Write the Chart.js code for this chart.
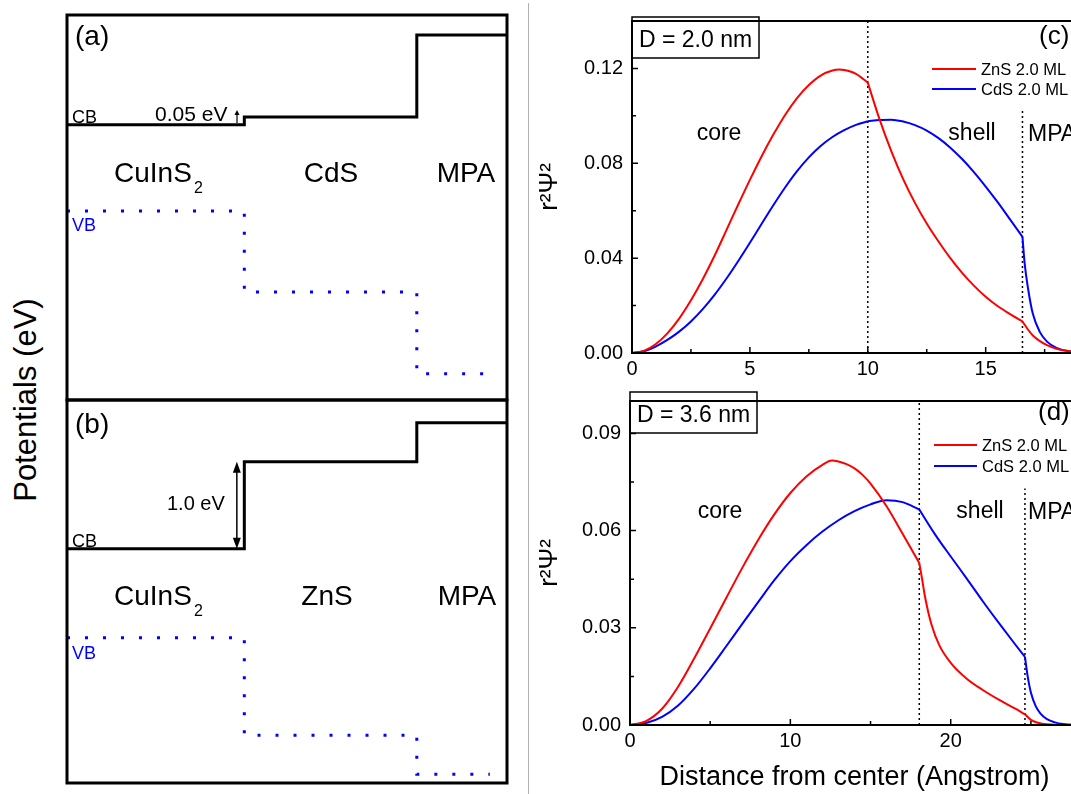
<!DOCTYPE html>
<html>
<head>
<meta charset="utf-8">
<script src="https://cdn.jsdelivr.net/npm/chart.js@4.4.1/dist/chart.umd.min.js"></script>
<style>
  body { margin: 0; width: 1071px; height: 794px; overflow: hidden; background: #fff; position: relative;
         font-family: "Liberation Sans", Arial, Helvetica, sans-serif; }
  canvas { position: absolute; }
  #sep { position: absolute; left: 528px; top: 3px; width: 1px; height: 791px; background: #b0b0b0; }
  #ylab { position: absolute; left: 26px; top: 400px; transform: translate(-50%, -50%) rotate(-90deg);
          font-size: 31px; white-space: nowrap; color: #000; }
</style>
</head>
<body>
<div id="sep"></div>
<div id="ylab">Potentials (eV)</div>
<canvas id="chartA" width="520" height="410" style="left:0;top:0"></canvas>
<canvas id="chartB" width="520" height="404" style="left:0;top:390px"></canvas>
<canvas id="chartC" width="560" height="385" style="left:530px;top:0"></canvas>
<canvas id="chartD" width="559" height="414" style="left:530px;top:380px"></canvas>
<script>
const FONT = '"Liberation Sans", Arial, Helvetica, sans-serif';
Chart.defaults.font.family = FONT;
Chart.defaults.color = '#000';
Chart.defaults.animation = false;

// band diagrams (a) and (b): region edges along the particle, band levels in eV
const regionEdges = [0, 0.403, 0.795, 1];
const vbEnd = 0.961;
const cbA = [0, 0.09, 1.03];
const vbA = [-0.99, -1.92, -2.86];
const rangeA = [-3.16, 1.26];
const cbB = [0, 1.0, 1.45];
const vbB = [-1.02, -2.14, -2.59];
const rangeB = [-2.69, 1.71];
const offsetArrowX = 0.386;

// wave function densities, panel (c) D = 2.0 nm
const cRedX = [0,0.5,1,1.5,2,2.5,3,3.5,4,4.5,5,5.5,6,6.5,7,7.5,8,8.5,8.8,9,9.5,10,10.5,11,11.5,12,12.5,13,13.5,14,14.5,15,15.5,16,16.56,16.8,17,17.3,17.6,18,18.5,19];
const cRedY = [0,0.0009,0.0037,0.0083,0.0145,0.0222,0.0311,0.0410,0.0517,0.0625,0.0730,0.0830,0.0922,0.1005,0.1075,0.1130,0.1170,0.1191,0.1195,0.1193,0.1177,0.1140,0.0985,0.0850,0.0733,0.0633,0.0546,0.0470,0.0400,0.0338,0.0284,0.0237,0.0198,0.0166,0.0133,0.0098,0.0074,0.0050,0.0033,0.0018,0.0008,0.0003];
const cBlueX = [0,0.5,1,1.5,2,2.5,3,3.5,4,4.5,5,5.5,6,6.5,7,7.5,8,8.5,9,9.5,10,10.5,11,11.5,12,12.5,13,13.5,14,14.5,15,15.5,16,16.56,16.65,16.8,17,17.3,17.6,18,18.5,19];
const cBlueY = [0,0.0007,0.0027,0.0055,0.0090,0.0133,0.0185,0.0245,0.0313,0.0387,0.0465,0.0545,0.0624,0.0699,0.0767,0.0825,0.0873,0.0911,0.0940,0.0962,0.0977,0.0983,0.0984,0.0976,0.0961,0.0938,0.0906,0.0866,0.0818,0.0763,0.0702,0.0637,0.0568,0.0490,0.0380,0.0270,0.0165,0.0088,0.0048,0.0022,0.0008,0.0003];
const cBounds = [10, 16.56];
const cBoundTops = [0.14, 0.103];

// panel (d) D = 3.6 nm
const dRedX = [0,1,2,3,4,5,6,7,8,9,10,11,12,12.6,13,13.5,14,14.5,15,16,17,18.04,18.2,18.4,18.8,19.3,20,21,22,23,24,24.63,25,25.5,26,27,28];
const dRedY = [0,0.0012,0.0050,0.0118,0.0205,0.0298,0.0392,0.0485,0.0572,0.0650,0.0716,0.0767,0.0803,0.0816,0.0813,0.0805,0.0792,0.0772,0.0745,0.0675,0.0590,0.0500,0.0455,0.0395,0.0310,0.0245,0.0192,0.0143,0.0108,0.0078,0.0051,0.0033,0.0016,0.0006,0.0002,0,0];
const dBlueX = [0,1,2,3,4,5,6,7,8,9,10,11,12,13,14,15,16,17,18.04,19,20,21,22,23,24,24.63,24.8,25,25.3,25.6,26,26.5,27,28];
const dBlueY = [0,0.0006,0.0025,0.0060,0.0112,0.0175,0.0243,0.0312,0.0380,0.0447,0.0506,0.0555,0.0597,0.0632,0.0660,0.0681,0.0694,0.0688,0.0665,0.0590,0.0520,0.0452,0.0382,0.0315,0.0250,0.0210,0.0150,0.0100,0.0058,0.0035,0.0018,0.0008,0.0003,0];
const dBounds = [18.04, 24.63];
const dBoundTops = [0.10, 0.073];

const seriesNames = ['ZnS 2.0 ML', 'CdS 2.0 ML'];
const seriesColors = ['#ff0000', '#0000ff'];

function zip(xs, ys) {
  return xs.map((x, i) => ({ x: x, y: ys[i] }));
}

// cut a curve at the interfaces so the kinks stay sharp
function splitAt(xs, ys, bounds) {
  const parts = [];
  let cur = [];
  zip(xs, ys).forEach(p => {
    cur.push(p);
    if (bounds.some(b => Math.abs(b - p.x) < 1e-9)) {
      parts.push(cur);
      cur = [p];
    }
  });
  if (cur.length > 1) parts.push(cur);
  return parts;
}

// box round the plot area, with inward ticks for the wave plots
const frame = {
  id: 'frame',
  afterDatasetsDraw(chart, args, opts) {
    const { ctx, chartArea: a } = chart;
    ctx.save();
    ctx.strokeStyle = '#000';
    ctx.lineWidth = opts.width;
    ctx.strokeRect(a.left, a.top, a.right - a.left, a.bottom - a.top);
    if (opts.ticks) {
      ctx.lineWidth = 1.5;
      ctx.beginPath();
      ['x', 'y'].forEach(k => {
        const s = chart.scales[k];
        const step = s.ticks[1].value - s.ticks[0].value;
        for (let i = 0; s.min + i * step / 2 <= s.max + 1e-9; i++) {
          const p = s.getPixelForValue(s.min + i * step / 2);
          const len = i % 2 === 0 ? 6 : 4;
          if (k === 'x') { ctx.moveTo(p, a.bottom); ctx.lineTo(p, a.bottom - len); }
          else { ctx.moveTo(a.left, p); ctx.lineTo(a.left + len, p); }
        }
      });
      ctx.stroke();
    }
    ctx.restore();
  }
};

function arrowHead(ctx, x, tip, dir, half, len) {
  ctx.beginPath();
  ctx.moveTo(x, tip);
  ctx.lineTo(x - half, tip + dir * len);
  ctx.lineTo(x + half, tip + dir * len);
  ctx.closePath();
  ctx.fill();
}

// free text, boxes and small arrows, given in page coordinates
const notes = {
  id: 'notes',
  afterDraw(chart, args, opts) {
    const ctx = chart.ctx;
    const ox = chart.canvas.offsetLeft, oy = chart.canvas.offsetTop;
    ctx.save();
    ctx.strokeStyle = '#000';
    ctx.fillStyle = '#000';
    (opts.boxes || []).forEach(b => {
      ctx.lineWidth = 1.5;
      ctx.strokeRect(b[0] - ox, b[1] - oy, b[2] - b[0], b[3] - b[1]);
    });
    (opts.arrows || []).forEach(a => {
      ctx.lineWidth = 1.2;
      ctx.beginPath();
      ctx.moveTo(a[0] - ox, a[1] - oy);
      ctx.lineTo(a[0] - ox, a[2] - oy + 3);
      ctx.stroke();
      arrowHead(ctx, a[0] - ox, a[2] - oy, 1, 2.5, 5);
    });
    (opts.texts || []).forEach(t => {
      ctx.font = t.size + 'px ' + FONT;
      ctx.fillStyle = t.color || '#000';
      ctx.textAlign = t.align || 'left';
      ctx.textBaseline = t.base || 'alphabetic';
      ctx.fillText(t.text, t.x - ox, t.y - oy);
    });
    ctx.restore();
  }
};

// legend for the two curves
const keyBox = {
  id: 'keyBox',
  afterDraw(chart, args, opts) {
    const ctx = chart.ctx;
    const ox = chart.canvas.offsetLeft, oy = chart.canvas.offsetTop;
    ctx.save();
    ctx.font = opts.size + 'px ' + FONT;
    ctx.textBaseline = 'middle';
    ctx.fillStyle = '#000';
    chart.data.datasets.filter(d => d.label).forEach((d, i) => {
      const y = opts.ys[i] - oy;
      ctx.strokeStyle = d.borderColor;
      ctx.lineWidth = 2;
      ctx.beginPath();
      ctx.moveTo(opts.x1 - ox, y);
      ctx.lineTo(opts.x2 - ox, y);
      ctx.stroke();
      ctx.fillText(d.label, opts.xt - ox, y + 1);
    });
    ctx.restore();
  }
};

// double arrow for the band offset in (b)
const offsetArrow = {
  id: 'offsetArrow',
  afterDatasetsDraw(chart, args, opts) {
    const { ctx, scales: { x, y } } = chart;
    const px = x.getPixelForValue(opts.x);
    const y1 = y.getPixelForValue(opts.from);
    const y2 = y.getPixelForValue(opts.to);
    ctx.save();
    ctx.strokeStyle = '#000';
    ctx.fillStyle = '#000';
    ctx.lineWidth = 1.5;
    ctx.beginPath();
    ctx.moveTo(px, y1 - 8);
    ctx.lineTo(px, y2 + 8);
    ctx.stroke();
    arrowHead(ctx, px, y1, -1, 4, 11);
    arrowHead(ctx, px, y2, 1, 4, 11);
    ctx.restore();
  }
};

function steps(levels, end) {
  return [
    { x: regionEdges[0], y: levels[0] },
    { x: regionEdges[1], y: levels[1] },
    { x: regionEdges[2], y: levels[2] },
    { x: end, y: levels[2] }
  ];
}

function bandChart(id, cb, vb, range, pad, labels, arrow) {
  const plugins = [frame, notes];
  if (arrow) plugins.push(offsetArrow);
  return new Chart(document.getElementById(id), {
    type: 'line',
    data: {
      datasets: [
        { data: steps(cb, 1), stepped: true, borderColor: '#000', borderWidth: 3, pointRadius: 0 },
        { data: steps(vb, vbEnd), stepped: true, borderColor: '#0000ff', borderWidth: 3,
          borderDash: [3, 15], pointRadius: 0 }
      ]
    },
    options: {
      responsive: false,
      layout: { padding: pad },
      scales: {
        x: { type: 'linear', min: 0, max: 1, display: false },
        y: { min: range[0], max: range[1], display: false }
      },
      plugins: {
        legend: { display: false },
        tooltip: { enabled: false },
        frame: { width: 3 },
        notes: labels,
        offsetArrow: arrow || {}
      }
    },
    plugins: plugins
  });
}

bandChart('chartA', cbA, vbA, rangeA, { left: 67, right: 13, top: 15, bottom: 10 }, {
  arrows: [[237, 123, 110]],
  texts: [
    { text: '(a)', x: 75, y: 37, size: 28, base: 'middle' },
    { text: 'CB', x: 72, y: 123, size: 18 },
    { text: '0.05 eV', x: 155, y: 121, size: 21 },
    { text: 'CuInS', x: 114, y: 182, size: 28 },
    { text: '2', x: 194, y: 193, size: 16 },
    { text: 'CdS', x: 331, y: 182, size: 28, align: 'center' },
    { text: 'MPA', x: 466, y: 182, size: 28, align: 'center' },
    { text: 'VB', x: 72, y: 231, size: 18, color: '#0000ff' }
  ]
}, null);

bandChart('chartB', cbB, vbB, rangeB, { left: 67, right: 13, top: 10, bottom: 11 }, {
  texts: [
    { text: '(b)', x: 75, y: 425, size: 28, base: 'middle' },
    { text: '1.0 eV', x: 167, y: 510, size: 20 },
    { text: 'CB', x: 72, y: 547, size: 18 },
    { text: 'CuInS', x: 114, y: 605, size: 28 },
    { text: '2', x: 194, y: 616, size: 16 },
    { text: 'ZnS', x: 327, y: 605, size: 28, align: 'center' },
    { text: 'MPA', x: 467, y: 605, size: 28, align: 'center' },
    { text: 'VB', x: 72, y: 659, size: 18, color: '#0000ff' }
  ]
}, { x: offsetArrowX, from: cbB[0], to: cbB[1] });

function waveChart(id, cfg) {
  const curves = [];
  [[cfg.redX, cfg.redY], [cfg.blueX, cfg.blueY]].forEach((s, i) => {
    splitAt(s[0], s[1], cfg.bounds).forEach((part, j) => {
      curves.push({
        label: j === 0 ? seriesNames[i] : undefined,
        data: part, borderColor: seriesColors[i], borderWidth: 2,
        pointRadius: 0, cubicInterpolationMode: 'monotone'
      });
    });
  });
  const guides = cfg.bounds.map((b, i) => ({
    data: [{ x: b, y: 0 }, { x: b, y: cfg.boundTops[i] }],
    borderColor: '#000', borderWidth: 1.5, borderDash: [2, 3], pointRadius: 0
  }));
  return new Chart(document.getElementById(id), {
    type: 'line',
    data: { datasets: curves.concat(guides) },
    options: {
      responsive: false,
      layout: { padding: { top: cfg.padTop, right: 10, left: 0, bottom: 0 } },
      scales: {
        x: {
          type: 'linear', min: 0, max: cfg.xMax,
          ticks: { stepSize: cfg.xStep, includeBounds: false, padding: 4, font: { size: 20 } },
          grid: { display: false, drawTicks: false },
          border: { display: false },
          title: cfg.xTitle
            ? { display: true, text: cfg.xTitle, font: { size: 27 }, padding: 0 }
            : { display: false },
          afterFit: s => { s.height = cfg.xHeight; }
        },
        y: {
          min: 0, max: cfg.yMax,
          ticks: { stepSize: cfg.yStep, includeBounds: false, padding: 9, font: { size: 20 },
                   callback: v => v.toFixed(2) },
          grid: { display: false, drawTicks: false },
          border: { display: false },
          title: { display: true, text: 'r\u00B2\u03A8\u00B2', font: { size: 26 }, padding: { top: 4, bottom: 0 } },
          afterFit: s => { s.width = cfg.yWidth; }
        }
      },
      plugins: {
        legend: { display: false },
        tooltip: { enabled: false },
        frame: { width: 2, ticks: true },
        notes: { boxes: [cfg.box], texts: cfg.texts },
        keyBox: cfg.key
      }
    },
    plugins: [frame, notes, keyBox]
  });
}

waveChart('chartC', {
  redX: cRedX, redY: cRedY, blueX: cBlueX, blueY: cBlueY,
  bounds: cBounds, boundTops: cBoundTops,
  xMax: 19, xStep: 5, yMax: 0.14, yStep: 0.04,
  padTop: 17, xHeight: 32, yWidth: 102,
  box: [632, 17, 759, 58],
  texts: [
    { text: 'D = 2.0 nm', x: 639, y: 47, size: 23 },
    { text: '(c)', x: 1039, y: 37, size: 26, base: 'middle' },
    { text: 'core', x: 719, y: 140, size: 23, align: 'center' },
    { text: 'shell', x: 972, y: 140, size: 23, align: 'center' },
    { text: 'MPA', x: 1028, y: 141, size: 23 }
  ],
  key: { x1: 932, x2: 976, xt: 981, ys: [69, 89], size: 16.5 }
});

waveChart('chartD', {
  redX: dRedX, redY: dRedY, blueX: dBlueX, blueY: dBlueY,
  bounds: dBounds, boundTops: dBoundTops,
  xMax: 28, xStep: 10, yMax: 0.10, yStep: 0.03,
  padTop: 12, xHeight: 69, yWidth: 100,
  xTitle: 'Distance from center (Angstrom)',
  box: [630, 392, 757, 433],
  texts: [
    { text: 'D = 3.6 nm', x: 637, y: 422, size: 23 },
    { text: '(d)', x: 1038, y: 413, size: 26, base: 'middle' },
    { text: 'core', x: 720, y: 518, size: 23, align: 'center' },
    { text: 'shell', x: 980, y: 518, size: 23, align: 'center' },
    { text: 'MPA', x: 1028, y: 519, size: 23 }
  ],
  key: { x1: 934, x2: 977, xt: 982, ys: [445, 466], size: 16.5 }
});
</script>
</body>
</html>
